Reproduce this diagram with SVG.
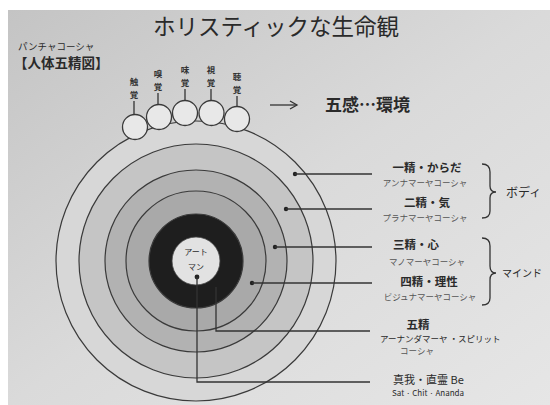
<svg xmlns="http://www.w3.org/2000/svg" width="550" height="405" viewBox="0 0 550 405">
<defs>
<linearGradient id="bg" x1="0" y1="0" x2="1" y2="1">
<stop offset="0" stop-color="#c4c4c4"/>
<stop offset="0.5" stop-color="#dadada"/>
<stop offset="1" stop-color="#e6e6e6"/>
</linearGradient>
<marker id="arr" markerWidth="10" markerHeight="10" refX="8" refY="5" orient="auto" markerUnits="userSpaceOnUse">
<path d="M1,1 L8,5 L1,9" fill="none" stroke="#333" stroke-width="1.3"/>
</marker>
<style>
text{font-family:"Noto Sans CJK JP","Liberation Sans",sans-serif;fill:#2a2a2a}
.ring{stroke:#3a3a3a;stroke-width:1.2}
.sense{fill:#e8e8e8;stroke:#3a3a3a;stroke-width:1.3}
.ln{fill:none;stroke:#333;stroke-width:1.3}
.dot{fill:#222}
.main{font-size:11.5px;font-weight:bold;text-anchor:middle}
.sub{font-size:8.5px;fill:#555;text-anchor:middle}
.sv{font-size:8.5px;font-weight:bold;text-anchor:middle;fill:#333}
.brace{fill:none;stroke:#333;stroke-width:1.3}
</style>
</defs>
<rect x="0" y="0" width="550" height="405" fill="#ffffff"/>
<rect x="8" y="10" width="542" height="395" fill="url(#bg)"/>

<text x="276" y="35" font-size="22.5" text-anchor="middle" fill="#3a3a3a">ホリスティックな生命観</text>
<text x="18" y="50" font-size="9.5" fill="#555">パンチャコーシャ</text>
<text x="14" y="68" font-size="13.5" font-weight="bold" fill="#333">【人体五精図】</text>

<g id="body-rings">
<circle class="ring" cx="196" cy="261" r="140" fill="#d7d7d7"/>
<circle class="ring" cx="196" cy="261" r="117" fill="#c5c5c5"/>
<circle class="ring" cx="196" cy="261" r="91" fill="#b2b2b2"/>
<circle class="ring" cx="196" cy="261" r="70" fill="#a9a9a9"/>
<circle class="ring" cx="196" cy="261" r="47" fill="#1e1e1e"/>
<circle cx="196" cy="261" r="24" fill="#e2e2e2" stroke="#444" stroke-width="0.8"/>
<text x="196" y="255" font-size="8" text-anchor="middle" fill="#777">アート</text>
<text x="196" y="270" font-size="8" text-anchor="middle" fill="#777">マン</text>
</g>

<g id="senses">
<circle class="sense" cx="135" cy="127" r="12.5"/>
<circle class="sense" cx="159" cy="117" r="12.5"/>
<circle class="sense" cx="185" cy="113" r="12.5"/>
<circle class="sense" cx="211.5" cy="113" r="12.5"/>
<circle class="sense" cx="237" cy="119" r="12.5"/>
<text class="sv" x="134" y="85">触</text><text class="sv" x="134" y="98">覚</text>
<text class="sv" x="158" y="77">嗅</text><text class="sv" x="158" y="90">覚</text>
<text class="sv" x="185" y="73">味</text><text class="sv" x="185" y="86">覚</text>
<text class="sv" x="211" y="73">視</text><text class="sv" x="211" y="86">覚</text>
<text class="sv" x="237" y="80">聴</text><text class="sv" x="237" y="93">覚</text>
</g>

<g id="connectors">
<line class="ln" x1="134" y1="101" x2="134" y2="114.5"/>
<line class="ln" x1="158" y1="93" x2="158" y2="104.5"/>
<line class="ln" x1="185" y1="89" x2="185" y2="100.5"/>
<line class="ln" x1="211" y1="89" x2="211" y2="100.5"/>
<line class="ln" x1="237" y1="96" x2="237" y2="106.5"/>
<line class="ln" x1="270" y1="105" x2="297" y2="105" marker-end="url(#arr)"/>
<circle class="dot" cx="295" cy="174" r="2.2"/>
<line class="ln" x1="295" y1="174" x2="372" y2="174"/>
<circle class="dot" cx="286" cy="209" r="2.2"/>
<line class="ln" x1="286" y1="209" x2="372" y2="209"/>
<circle class="dot" cx="275" cy="247" r="2.2"/>
<line class="ln" x1="275" y1="247" x2="372" y2="247"/>
<circle class="dot" cx="252" cy="283" r="2.2"/>
<line class="ln" x1="252" y1="283" x2="372" y2="283"/>
<polyline class="ln" points="216,287 216,331 370,331"/>
<circle class="dot" cx="197" cy="277" r="2.4"/>
<polyline class="ln" points="197,277 197,382 370,382"/>
<path class="brace" d="M482,164 Q490,164 490,172 L490,186 Q490,192 496,192 Q490,192 490,198 L490,211 Q490,218 482,218"/>
<path class="brace" d="M482,238 Q490,238 490,246 L490,266 Q490,273 496,273 Q490,273 490,280 L490,298 Q490,305 482,305"/>
</g>

<g id="env">
<text x="325" y="111" font-size="17" font-weight="bold" fill="#333">五感…環境</text>
</g>

<g id="label-1">
<text class="main" x="427" y="172">一精・からだ</text>
<text class="sub" x="425" y="186">アンナマーヤコーシャ</text>
</g>
<g id="label-2">
<text class="main" x="427" y="207">二精・気</text>
<text class="sub" x="425" y="221">プラナマーヤコーシャ</text>
</g>
<g id="body-group">
<text x="506" y="197" font-size="12" fill="#444">ボディ</text>
</g>
<g id="label-3">
<text class="main" x="416" y="249">三精・心</text>
<text class="sub" x="427" y="265">マノマーヤコーシャ</text>
</g>
<g id="label-4">
<text class="main" x="429" y="286">四精・理性</text>
<text class="sub" x="430" y="300">ビジュナマーヤコーシャ</text>
</g>
<g id="mind-group">
<text x="502" y="277" font-size="10" fill="#444">マインド</text>
</g>
<g id="label-5">
<text class="main" x="418" y="329" font-weight="normal">五精</text>
<text x="380" y="342" font-size="8.5" fill="#555">アーナンダマーヤ ・スピリット</text>
<text class="sub" x="417" y="354">コーシャ</text>
</g>
<g id="label-6">
<text x="393" y="384" font-size="11" fill="#333">真我・直霊 Be</text>
<text x="392" y="396" font-size="8" fill="#555">Sat · Chit · Ananda</text>
</g>
</svg>
